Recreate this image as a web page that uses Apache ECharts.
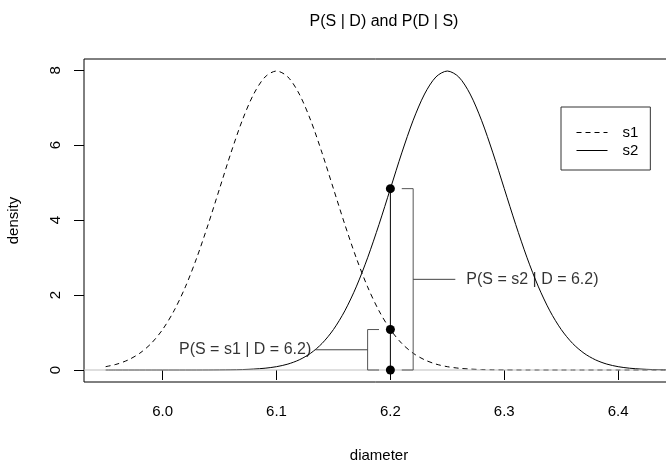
<!DOCTYPE html>
<html>
<head>
<meta charset="utf-8">
<script src="https://cdn.jsdelivr.net/npm/echarts@6/dist/echarts.min.js"></script>
<style>
html, body { margin: 0; padding: 0; background: #fff; }
#chart { width: 666px; height: 465px; }
</style>
</head>
<body>
<div id="chart"></div>
<script>
// diameter grid
var diameter = [5.95, 5.96, 5.97, 5.98, 5.99, 6.00, 6.01, 6.02, 6.03, 6.04,
  6.05, 6.06, 6.07, 6.08, 6.09, 6.10, 6.11, 6.12, 6.13, 6.14,
  6.15, 6.16, 6.17, 6.18, 6.19, 6.20, 6.21, 6.22, 6.23, 6.24,
  6.25, 6.26, 6.27, 6.28, 6.29, 6.30, 6.31, 6.32, 6.33, 6.34,
  6.35, 6.36, 6.37, 6.38, 6.39, 6.40, 6.41, 6.42, 6.43, 6.44, 6.45];
// density of s1 (dashed)
var densS1 = [0.089, 0.158, 0.272, 0.448, 0.709, 1.080, 1.579, 2.218, 2.995, 3.884,
  4.839, 5.794, 6.665, 7.365, 7.821, 7.979, 7.821, 7.365, 6.665, 5.794,
  4.839, 3.884, 2.995, 2.218, 1.579, 1.080, 0.709, 0.448, 0.272, 0.158,
  0.089, 0.048, 0.025, 0.012, 0.006, 0.003, 0.001, 0, 0, 0,
  0, 0, 0, 0, 0, 0, 0, 0, 0, 0, 0];
// density of s2 (solid)
var densS2 = [0, 0, 0, 0, 0, 0, 0, 0, 0, 0.001,
  0.003, 0.006, 0.012, 0.025, 0.048, 0.089, 0.158, 0.272, 0.448, 0.709,
  1.080, 1.579, 2.218, 2.995, 3.884, 4.839, 5.794, 6.665, 7.365, 7.821,
  7.979, 7.821, 7.365, 6.665, 5.794, 4.839, 3.884, 2.995, 2.218, 1.579,
  1.080, 0.709, 0.448, 0.272, 0.158, 0.089, 0.048, 0.025, 0.012, 0.006, 0.003];
// annotation at D = 6.2
var dObs = 6.2;
var pS1 = 1.08;   // s1 density at 6.2
var pS2 = 4.84;   // s2 density at 6.2
var labelS1 = 'P(S = s1 | D = 6.2)';
var labelS2 = 'P(S = s2 | D = 6.2)';
var xTicks = [6.0, 6.1, 6.2, 6.3, 6.4];
var yTicks = [0, 2, 4, 6, 8];

var FONT = 'Liberation Sans';
var xMin = 5.931, xMax = 6.449;

function pairs(xs, ys) {
  return xs.map(function (x, i) { return [x, ys[i]]; });
}

var myChart = echarts.init(document.getElementById('chart'));
var option = {
  animation: false,
  backgroundColor: '#fff',
  title: {
    text: 'P(S | D) and P(D | S)',
    left: 379,
    textAlign: 'center',
    top: 9,
    textStyle: { fontFamily: FONT, fontSize: 16, fontWeight: 'normal', color: '#000' }
  },
  legend: {
    orient: 'vertical',
    left: 561,
    top: 107,
    data: ['s1', 's2'],
    padding: [18, 12, 12, 15],
    borderColor: '#333',
    borderWidth: 1,
    itemWidth: 31,
    itemHeight: 14,
    itemGap: 3,
    itemStyle: { opacity: 0 },
    lineStyle: { width: 1 },
    textStyle: { fontFamily: FONT, fontSize: 15, color: '#000', padding: [0, 0, 0, 10] }
  },
  grid: {
    left: 84,
    top: 59,
    width: 590,
    bottom: 83,
    outerBoundsMode: 'none',
    show: true,
    borderColor: '#000',
    borderWidth: 1
  },
  xAxis: {
    type: 'value',
    min: xMin,
    max: xMax,
    name: 'diameter',
    nameLocation: 'middle',
    nameGap: 66,
    nameTextStyle: { fontFamily: FONT, fontSize: 15, color: '#000' },
    axisLine: { show: false },
    axisTick: { show: true, length: 10, customValues: xTicks, lineStyle: { color: '#000' } },
    axisLabel: {
      customValues: xTicks,
      margin: 22,
      fontFamily: FONT, fontSize: 15, color: '#000',
      formatter: function (v) { return v.toFixed(1); }
    },
    splitLine: { show: false }
  },
  yAxis: {
    type: 'value',
    min: -0.32,
    max: 8.3,
    name: 'density',
    nameLocation: 'middle',
    nameRotate: 90,
    nameGap: 63,
    nameTextStyle: { fontFamily: FONT, fontSize: 15, color: '#000' },
    axisLine: { show: false },
    axisTick: { show: true, length: 10, customValues: yTicks, lineStyle: { color: '#000' } },
    axisLabel: {
      customValues: yTicks,
      rotate: 90,
      margin: 21,
      fontFamily: FONT, fontSize: 15, color: '#000'
    },
    splitLine: { show: false }
  },
  series: [
    {
      name: 's1',
      type: 'line',
      data: pairs(diameter, densS1),
      smooth: 0.3,
      symbol: 'none',
      z: 2,
      lineStyle: { color: '#000', width: 1, type: [5, 4] },
      itemStyle: { color: '#000' }
    },
    {
      name: 's2',
      type: 'line',
      data: pairs(diameter, densS2),
      smooth: 0.3,
      symbol: 'none',
      z: 2,
      lineStyle: { color: '#000', width: 1 },
      itemStyle: { color: '#000' }
    },
    { // zero line
      type: 'line',
      data: [[xMin, 0], [xMax, 0]],
      symbol: 'none',
      z: 3,
      silent: true,
      lineStyle: { color: '#bebebe', width: 1 }
    },
    { // vertical line at D = 6.2
      type: 'line',
      data: [[dObs, 0], [dObs, pS2]],
      symbol: 'none',
      z: 4,
      lineStyle: { color: '#000', width: 1 }
    },
    { // bracket s1
      type: 'line',
      data: [[dObs - 0.01, pS1], [dObs - 0.02, pS1], [dObs - 0.02, 0], [dObs - 0.01, 0]],
      symbol: 'none',
      z: 4,
      lineStyle: { color: '#555', width: 1 }
    },
    { // bracket s2
      type: 'line',
      data: [[dObs + 0.01, pS2], [dObs + 0.02, pS2], [dObs + 0.02, 0], [dObs + 0.01, 0]],
      symbol: 'none',
      z: 4,
      lineStyle: { color: '#555', width: 1 }
    },
    { // connector s1
      type: 'line',
      data: [[dObs - 0.02, pS1 / 2], [6.134, pS1 / 2]],
      symbol: 'none',
      z: 4,
      lineStyle: { color: '#444', width: 1 }
    },
    { // connector s2
      type: 'line',
      data: [[dObs + 0.02, pS2 / 2], [6.257, pS2 / 2]],
      symbol: 'none',
      z: 4,
      lineStyle: { color: '#444', width: 1 }
    },
    { // points
      type: 'scatter',
      data: [[dObs, 0], [dObs, pS1], [dObs, pS2]],
      symbolSize: 9,
      z: 5,
      itemStyle: { color: '#000', opacity: 1 }
    },
    { // labels
      type: 'scatter',
      symbolSize: 0,
      z: 5,
      data: [
        { value: [6.134, pS1 / 2], label: { show: true, position: 'left', distance: 4, formatter: labelS1 } },
        { value: [6.257, pS2 / 2], label: { show: true, position: 'right', distance: 11, formatter: labelS2 } }
      ],
      label: { fontFamily: FONT, fontSize: 16, color: '#000' }
    }
  ]
};
myChart.setOption(option);
window.addEventListener('resize', function () { myChart.resize(); });
</script>
</body>
</html>
